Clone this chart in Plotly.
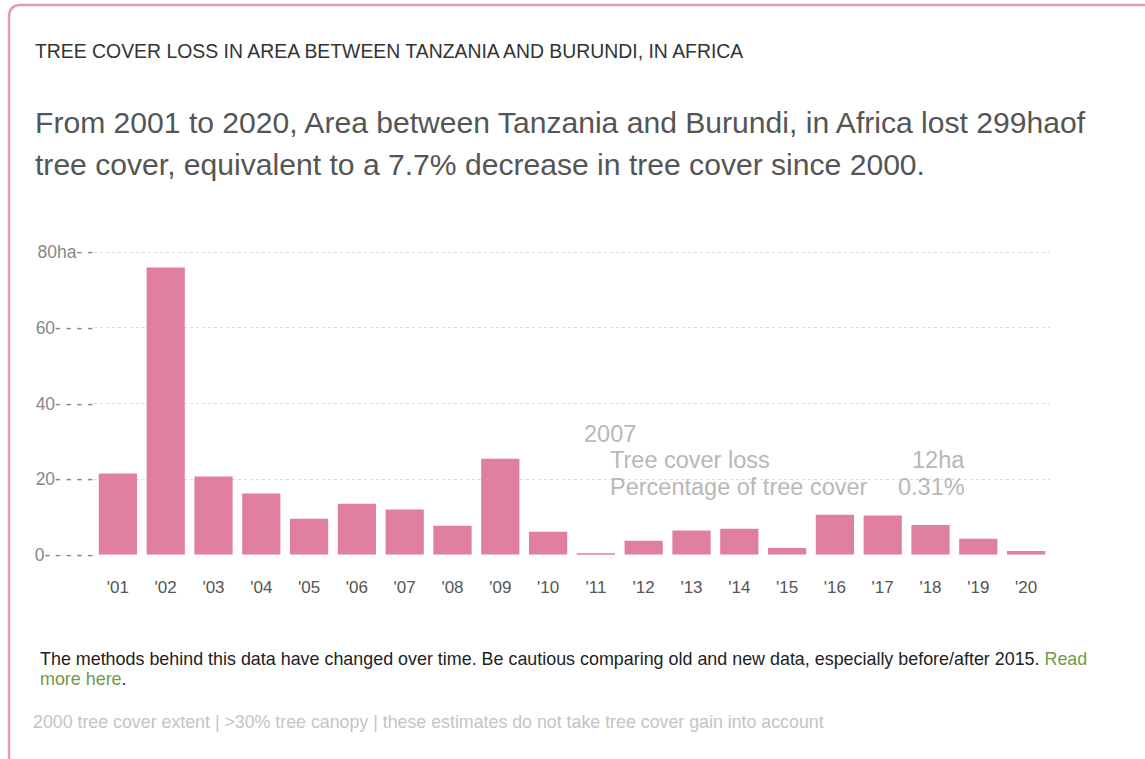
import plotly.graph_objects as go

years = ["'01", "'02", "'03", "'04", "'05", "'06", "'07", "'08", "'09", "'10",
         "'11", "'12", "'13", "'14", "'15", "'16", "'17", "'18", "'19", "'20"]
loss_ha = [21.5, 76, 20.7, 16.2, 9.5, 13.5, 12, 7.7, 25.4, 6.1,
           0.3, 3.7, 6.4, 6.9, 1.8, 10.6, 10.4, 7.9, 4.2, 1.0]
ytick_vals = [0, 20, 40, 60, 80]
ytick_text = ["0- - - - -", "20- - - -", "40- - - -", "60- - - -", "80ha- -"]

W, H = 1145, 759
HE = 748  # effective height used for vertical placement
def px(x): return x / W
def py(y): return 1 - y / HE

fig = go.Figure()
fig.add_trace(go.Bar(x=years, y=loss_ha, marker_color="#e07fa2",
                     marker_line_width=0, hoverinfo="skip"))

y0, y80 = 554, 252
per = (y0 - y80) / 80
ytop = 84
fig.update_layout(
    width=W, height=H,
    margin=dict(l=0, r=0, t=0, b=0),
    paper_bgcolor="white", plot_bgcolor="white",
    showlegend=False, bargap=0.2,
    font=dict(family="Liberation Sans, Arial, sans-serif", color="#555"),
    xaxis=dict(domain=[px(94), px(1050)], showgrid=False, zeroline=False,
               showline=False, ticks="", tickfont=dict(size=17, color="#555"),
               range=[-0.5, 19.5], ticklabelstandoff=20),
    yaxis=dict(domain=[py(y0), py(y0 - ytop * per)], range=[0, ytop],
               tickvals=ytick_vals, ticktext=ytick_text,
               tickfont=dict(size=17.5, color="#888"),
               showgrid=True, gridcolor="#dcdcdc", griddash="dot", gridwidth=1,
               zeroline=False, showline=False, ticks=""),
)

# card border (rounded top-left corner)
r = 12
fig.add_shape(type="path", xref="paper", yref="paper",
              path=(f"M {px(9)},{py(775)} L {px(9)},{py(5 + r)} "
                    f"Q {px(9)},{py(5)} {px(9 + r)},{py(5)} L {px(1150)},{py(5)}"),
              line=dict(color="#e59ab5", width=2.5))

ann = []
def text(x, y, s, size, color, anchor="left"):
    ann.append(dict(x=px(x), y=py(y), xref="paper", yref="paper", text=s,
                    showarrow=False, xanchor=anchor, yanchor="middle",
                    font=dict(size=size, color=color,
                              family="Liberation Sans, Arial, sans-serif")))

text(33, 51, "TREE COVER LOSS IN AREA BETWEEN TANZANIA AND BURUNDI, IN AFRICA", 19.4, "#333")
text(33, 122, "From 2001 to 2020, Area between Tanzania and Burundi, in Africa lost 299haof", 30.1, "#555")
text(33, 164, "tree cover, equivalent to a 7.7% decrease in tree cover since 2000.", 30.1, "#555")

# tooltip
text(582, 433, "2007", 23.5, "#b8b8b8")
text(608, 459, "Tree cover loss", 23.5, "#b8b8b8")
text(967, 459, "12ha", 23.5, "#b8b8b8", "right")
text(608, 486, "Percentage of tree cover", 23.5, "#b8b8b8")
text(967, 486, "0.31%", 23.5, "#b8b8b8", "right")

text(38, 658, "The methods behind this data have changed over time. Be cautious comparing old and new data, especially before/after 2015. "
     "<span style='color:#6f9a4c'>Read</span>", 17.9, "#222")
text(38, 678, "<span style='color:#6f9a4c'>more here</span>.", 17.9, "#222")
text(31, 721, "2000 tree cover extent | >30% tree canopy | these estimates do not take tree cover gain into account", 17.8, "#c4c4c4")

fig.update_layout(annotations=ann)
fig.write_html("out.html")
